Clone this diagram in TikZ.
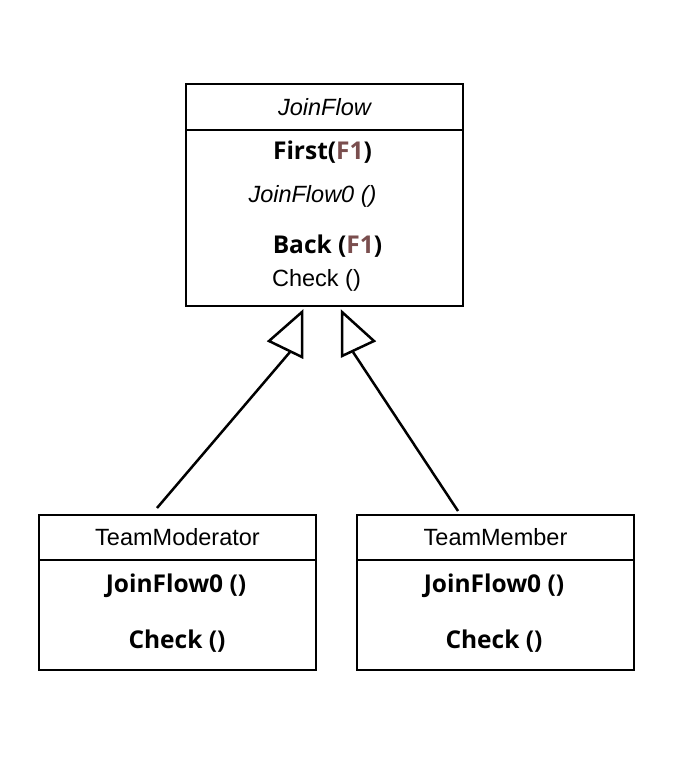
\documentclass[tikz,border=0pt]{standalone}
\usepackage{fontspec}
\setmainfont{Liberation Sans}
\newfontfamily\opfont{Open Sans}
\usepackage{xcolor}
\usetikzlibrary{positioning}
\definecolor{fcolor}{HTML}{7A4E4E}

\begin{document}
\begin{tikzpicture}[x=1pt, y=-1pt, line width=2pt,
  head/.style={draw, minimum width=277pt, minimum height=45pt, outer sep=0pt, inner sep=0pt, font=\fontsize{23.5}{26}\selectfont},
  body/.style={draw, minimum width=277pt, outer sep=0pt, inner sep=0pt},
  txt/.style={inner sep=0pt, font=\fontsize{23.5}{26}\selectfont},
  btxt/.style={inner sep=0pt, font=\opfont\bfseries\fontsize{24.5}{27}\selectfont},
  gen/.style={line width=2.5pt}]
\useasboundingbox (0,0) rectangle (680,758);
% Clases
\node[head, anchor=north west, minimum height=46pt] (jf) at (186,84) {\itshape JoinFlow};
\node[body, below=0pt of jf, minimum height=176pt] (jfb) {};
\node[head, anchor=north west] (tmo) at (39,515) {TeamModerator};
\node[body, below=0pt of tmo, minimum height=110pt] (tmob) {};
\node[head, anchor=north west] (tme) at (357,515) {TeamMember};
\node[body, below=0pt of tme, minimum height=110pt] (tmeb) {};

% Metodos
\node[btxt] (first) at (322.5,152) {First(\textcolor{fcolor}{F1})};
\node[txt] (jf0) at (312.5,196) {\itshape JoinFlow0 ()};
\node[btxt] (back) at (327.5,246) {Back (\textcolor{fcolor}{F1})};
\node[txt] (chk) at (316.5,280) {Check ()};
\node[btxt] (tmojf) at (176,586) {JoinFlow0 ()};
\node[btxt] (tmochk) at (177,641) {Check ()};
\node[btxt] (tmejf) at (494,586) {JoinFlow0 ()};
\node[btxt] (tmechk) at (494,641) {Check ()};

% Herencia
\coordinate (l0) at (157,508);
\coordinate (l1) at (290,352);
\coordinate (r0) at (458,511);
\coordinate (r1) at (353,352);
\draw[gen] (l0) -- (l1);
\draw[gen] (r0) -- (r1);
\draw[gen, line join=miter] (302,312) -- (302,357) -- (269,341) -- cycle;
\draw[gen, line join=miter] (342,312) -- (342,356) -- (374,341) -- cycle;
\end{tikzpicture}
\end{document}
